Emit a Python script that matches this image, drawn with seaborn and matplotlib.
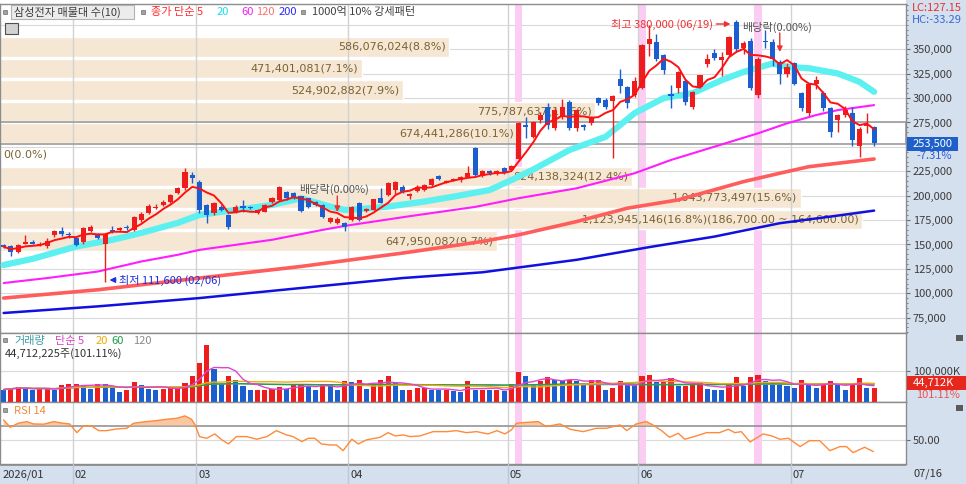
import numpy as np
import pandas as pd
import matplotlib
matplotlib.use("Agg")
import matplotlib.pyplot as plt
from matplotlib.patches import Rectangle
from matplotlib.ticker import FuncFormatter, MultipleLocator, FixedLocator
import seaborn as sns

sns.set_style("white")
plt.rcParams["font.family"] = ["Noto Sans CJK KR", "DejaVu Sans"]

# ------------------------------------------------------------
# data (prices in thousand won, volume in million shares)
# ------------------------------------------------------------
month_labels = ["2026/01", "02", "03", "04", "05", "06", "07"]
month_start = [0, 10, 27, 48, 70, 88, 109]
last_date = "07/16"

opens = [149, 148.5, 142.2, 151, 153, 149.5, 148, 160, 163.5, 161,
         157, 152.4, 164.3, 160, 150.7, 164.5, 165, 168, 165, 175,
         182, 187, 190.5, 194, 203, 207.6, 221, 214.4, 190.5, 182,
         188.8, 180.3, 183.7, 189, 188.5, 182, 183.7, 194, 195.6, 204,
         203, 199.3, 197.4, 194, 190.5, 173.4, 172.5, 172, 175, 192.5,
         184, 185.4, 197.7, 200.8, 206, 209.3, 199.7, 205, 206, 211,
         220.4, 213.5, 216, 215.6, 219.6, 249, 220, 225, 222, 228,
         226, 238, 272, 260.4, 278, 291, 269, 281, 296, 269,
         272, 274, 299.6, 298, 297, 320, 310.9, 303, 310, 355,
         357.8, 344, 304, 310, 318, 291, 311.5, 335, 346, 338.8,
         344, 378, 351, 359, 303, 358.5, 357.8, 337, 324.5, 335.5,
         304.8, 284.6, 314, 304.8, 289.4, 277.5, 282.6, 284.3, 250.5, 271,
         270]
highs = [150.4, 149, 150, 160, 155, 153, 157, 165, 167.4, 163,
         158, 168, 169.5, 162, 161.5, 169, 167.5, 170, 179.5, 183,
         191, 191, 196, 202, 209, 228, 224, 216, 191, 194,
         190, 181, 190, 195.6, 189.5, 186.5, 191.5, 198.5, 210, 205,
         204, 200, 198, 195, 191, 178, 178, 173, 189, 194,
         187.5, 197, 207.9, 214, 215, 211, 203, 210.5, 212, 218,
         221, 216, 218.5, 220, 230, 250, 226, 226.5, 226, 229,
         231, 275, 280.8, 277, 286, 295, 290, 298.8, 298, 289,
         273, 282, 301, 300, 303, 330, 312, 322, 355, 374.6,
         366, 345, 313, 328, 320, 307, 324, 345, 350, 347,
         364, 380, 358, 362, 342, 369.5, 361, 339, 336, 337,
         306, 315, 323, 307, 291, 284, 292, 291, 270, 284.6,
         271]
lows = [146.3, 137.7, 141, 150, 150, 148, 146, 158, 158.4, 157,
        148, 151, 163, 156, 111.6, 161.6, 164, 165, 164, 173,
        181, 186, 189, 193, 202, 206, 212.7, 182, 172, 180,
        184, 166, 182, 183.7, 186, 181, 183, 193, 195, 196,
        196.5, 183, 187.5, 189.5, 177, 172, 171, 164, 174, 174,
        183, 185, 192, 200, 201.5, 203, 197, 204, 205, 210,
        216, 212.5, 215, 214.5, 219, 220, 219, 221.5, 221, 222,
        225, 237, 258.7, 259, 274, 268, 267, 279, 267, 266,
        267, 272, 293, 289, 238.6, 304.8, 290, 301, 309, 343,
        338, 325, 289.4, 305, 293, 289, 310, 332, 339, 323,
        343, 348, 345, 308, 299.6, 351, 333, 314, 322, 313,
        287, 282, 309, 287, 260, 265, 281, 250.5, 240, 264,
        251]
closes = [147.7, 142.5, 149, 153, 151, 151, 153.8, 163.3, 161, 160,
          149.6, 166.7, 168, 157, 160.6, 163, 166.5, 166.5, 178.6, 181,
          189.8, 188.5, 194, 200.8, 208, 224.6, 218, 185.4, 180.3, 192.6,
          185.4, 168.4, 188.8, 187.5, 187.5, 185.4, 190.5, 197.5, 209.3, 197.4,
          197.4, 184, 188.8, 190.5, 178.6, 177, 176.5, 167.5, 188, 175,
          186.5, 196.4, 192.6, 212.7, 214.4, 204, 201.8, 209, 211, 216.8,
          217, 215, 217.5, 219, 223, 221, 225, 223, 225, 223,
          230, 274, 270, 275.8, 283, 272, 288, 291, 269, 288,
          270, 281, 294.5, 291, 302, 312, 294.5, 317.7, 354, 361,
          340.5, 328.6, 302, 327, 296, 306, 323.5, 340, 341, 342.5,
          362.6, 350, 356, 310, 340.5, 357, 340.5, 324.5, 332, 314,
          289.4, 314.3, 319, 289.4, 265.5, 282.5, 287.7, 257, 268.8, 273.5,
          253.5]
volumes = [40, 45, 48, 46, 38, 43, 43, 40, 54, 59,
           59, 54, 43, 59, 58, 46, 32, 40, 65, 54,
           43, 38, 43, 46, 46, 61, 83, 124, 183, 105,
           57, 83, 70, 51, 38, 38, 38, 43, 48, 43,
           57, 57, 51, 40, 57, 54, 40, 68, 65, 72,
           43, 54, 70, 83, 61, 38, 38, 46, 46, 40,
           38, 38, 36, 32, 68, 40, 40, 38, 38, 37,
           57, 97, 83, 54, 68, 79, 72, 68, 72, 68,
           57, 70, 72, 38, 46, 68, 57, 56, 83, 86,
           65, 65, 76, 51, 51, 57, 61, 43, 40, 38,
           61, 79, 51, 79, 86, 68, 65, 57, 51, 46,
           70, 54, 46, 61, 68, 54, 40, 57, 76, 44.2,
           44.7]

ma20_x = [0, 4, 10, 15, 19, 24, 27, 32, 37, 41, 45, 47, 49, 53, 58, 62, 67, 70,
          73, 78, 83, 87, 91, 95, 99, 102, 106, 108, 111, 115, 118, 120]
ma20_v = [129, 135.3, 147.9, 154.8, 161.9, 172.1, 180.3, 185.4, 190.5, 197.4,
          188.8, 185.4, 186.2, 188.8, 194, 199, 205.8, 216, 226.8, 246.8, 260.4,
          284.6, 300, 305.1, 318.4, 326.8, 335.4, 332, 330.6, 325.2, 316.6, 306.4]
ma60_x = [0, 6, 13, 19, 24, 27, 37, 44, 47, 56, 65, 71, 79, 87, 92, 95, 104,
          108, 112, 115, 120]
ma60_v = [110.5, 115.6, 122.3, 132.6, 139.4, 144.5, 154.8, 165, 169, 179, 188.5,
          197.4, 207.6, 223, 236.6, 243.4, 263.9, 274.1, 282.6, 287.7, 292.8]
ma120_x = [0, 13, 27, 41, 55, 66, 71, 79, 86, 93, 102, 107, 111, 120]
ma120_v = [95.1, 103.6, 115.6, 127.5, 141.2, 153.1, 159.9, 173.5, 187.2, 195.7,
           214.4, 223, 229.7, 237.6]
ma200_x = [0, 13, 27, 41, 55, 66, 79, 89, 98, 107, 114, 120]
ma200_v = [79.8, 86.6, 95.1, 105.4, 115.6, 121.5, 134.3, 147.3, 158.1, 171.8,
           178.6, 184.7]

rsi_x = [0, 0.9, 2.0, 3.2, 4.1, 5.5, 6.9, 8.2, 9.1, 10.1, 11.0, 12.1, 13.1, 14.2,
         15.6, 17.0, 17.9, 19.3, 21.1, 22.5, 23.9, 25.0, 25.9, 26.4, 27.0, 28.0,
         29.1, 30.1, 31.0, 32.1, 33.5, 34.9, 36.3, 37.6, 39.0, 39.9, 41.1, 42.0,
         42.9, 43.8, 45.0, 45.9, 46.8, 48.0, 48.9, 50.0, 51.9, 53.0, 54.0, 55.1,
         56.0, 57.4, 59.2, 61.1, 62.4, 63.8, 65.2, 66.8, 68.0, 69.1, 70.0, 70.7,
         71.6, 73.7, 74.8, 76.7, 78.1, 79.9, 81.7, 83.1, 85.0, 85.9, 87.2, 88.6,
         89.5, 90.7, 91.8, 93.0, 93.9, 95.5, 96.9, 98.7, 99.9, 100.8, 101.7,
         102.9, 104.7, 105.9, 107.0, 108.2, 109.8, 111.1, 112.5, 113.9, 115.3,
         116.2, 117.1, 118.7, 119.9]
rsi_v = [78, 67.7, 73.3, 75.6, 72.4, 72, 75.6, 73.3, 72.4, 60.2, 69.6, 69.6, 63, 63,
         65.4, 66.3, 73.3, 75.2, 77, 78.9, 80.3, 83.6, 78.9, 71, 54.7, 52.3, 58.4,
         50, 44.4, 54.7, 54.7, 51, 54.7, 63, 57, 54.7, 47.7, 52.3, 52.3, 44.4, 43,
         43, 35, 51, 44.4, 50, 53.7, 60.2, 55.6, 57, 54.7, 55.6, 61.6, 61.6, 63,
         60.2, 61.6, 58.4, 63, 58.4, 64, 73.3, 74.2, 75.6, 68.7, 72.4, 64.9, 61.6,
         66.3, 66.3, 71, 63, 72.4, 75.6, 71, 63, 53.7, 59.3, 51, 55.6, 60.2, 60.2,
         64.9, 60.2, 61.6, 47.2, 58.4, 55.6, 51, 52.3, 40.7, 49, 49, 35, 40.7,
         40.7, 32.3, 39.8, 33.7]

# volume profile (매물대), 10 bins of 22.1k
prof_lo = [142.5, 164.6, 186.7, 208.8, 230.9, 253.0, 275.1, 297.2, 319.3, 341.4]
prof_vol = [647950082, 1123945146, 1043773497, 824138324, 0,
            674441286, 775787637, 524902882, 471401081, 586076024]
prof_pct = [9.7, 16.8, 15.6, 12.4, 0.0, 10.1, 11.6, 7.9, 7.1, 8.8]
prof_step = 22.1

pattern_days = [71, 88, 104]
high_idx, high_val, high_date = 101, 380000, "06/19"
low_idx, low_val, low_date = 14, 111600, "02/06"
exdiv_idx = [46, 107]

last_price = 253500
change_pct = -7.31
last_vol = 44712225
vol_ratio = 101.11

# price labels hidden behind the LC/HC and current-price boxes
price_labels = [75000, 100000, 125000, 150000, 175000, 200000, 225000,
                275000, 300000, 325000, 350000]

# ------------------------------------------------------------
# layout helpers (pixel based)
# ------------------------------------------------------------
W, H = 966, 484
RED, BLUE = "#ee1d1d", "#1b5ed0"
GRID = "#dadada"
PANEL_BG = "#d5e0ee"
XL = (-0.5, 124.4)


def rect(x0, y0, x1, y1):
    return [x0 / W, 1 - y1 / H, (x1 - x0) / W, (y1 - y0) / H]


fig = plt.figure(figsize=(W / 100, H / 100), dpi=100)


def T(x, y, s, color="#333333", size=8, ha="left", va="center", **kw):
    return fig.text(x / W, 1 - y / H, s, color=color, fontsize=size, ha=ha, va=va, **kw)


def box(x0, y0, x1, y1, fc, ec="none", lw=0.8, z=-1):
    fig.patches.append(Rectangle((x0 / W, 1 - y1 / H), (x1 - x0) / W, (y1 - y0) / H,
                                 transform=fig.transFigure, facecolor=fc,
                                 edgecolor=ec, lw=lw, zorder=z))


# backgrounds for right scale and date strip
box(906, 0, 966, 484, PANEL_BG)
box(0, 464, 906, 484, PANEL_BG)

ax_p = fig.add_axes(rect(0, 4, 906, 333))
ax_v = fig.add_axes(rect(0, 333, 906, 402))
ax_r = fig.add_axes(rect(0, 402, 906, 464))

idx = np.arange(len(closes))
o = np.array(opens) * 1000
h = np.array(highs) * 1000
l = np.array(lows) * 1000
c = np.array(closes) * 1000
up = c >= o

for ax in (ax_p, ax_v, ax_r):
    ax.set_xlim(*XL)
    ax.set_xticks([])
    for s in ax.spines.values():
        s.set_color("#8c8c8c")
        s.set_linewidth(1.0)
    for m in month_start[1:]:
        ax.axvline(m - 0.5, color="#d2d2d2", lw=1.0, zorder=1.5)
    for d in pattern_days:
        ax.axvspan(d - 0.5, d + 0.5, color="#fccdf3", lw=0, zorder=0.8)
    ax.yaxis.tick_right()
    ax.tick_params(axis="y", direction="out", length=3, width=0.8, pad=2,
                   colors="#6a6a6a", labelcolor="#3c3c3c", labelsize=8)

# ---------------- price panel ----------------
ax_p.set_ylim(59300, 396400)
ax_p.yaxis.set_major_locator(FixedLocator(price_labels))
ax_p.yaxis.set_minor_locator(MultipleLocator(5000))
ax_p.tick_params(axis="y", which="minor", direction="out", length=1.6, width=0.6,
                 colors="#6a6a6a")
ax_p.yaxis.set_major_formatter(FuncFormatter(lambda v, p: f"{v:,.0f}"))
for t in np.arange(75000, 396400, 25000):
    ax_p.axhline(t, color=GRID, lw=0.8, zorder=0.5)

# volume profile bars
span = XL[1] - XL[0]
full = 862 / 906 * span
vmax = max(prof_vol)
imax = prof_vol.index(vmax)
for i, (lo, v, p) in enumerate(zip(prof_lo, prof_vol, prof_pct)):
    yc = (lo + prof_step / 2) * 1000
    bw = v / vmax * full
    if v > 0:
        ax_p.barh(yc, bw, left=XL[0], height=prof_step * 1000 * 0.9,
                  color="#f5e7d4", zorder=1)
    lab = f"{v:,}({p:.1f}%)"
    if i == imax:
        lab += f"({(lo + prof_step) * 1000:,.2f} ~ {lo * 1000:,.2f})"
    if v > 0:
        ax_p.text(XL[0] + bw - 0.5, yc, lab, ha="right", va="center", fontsize=8,
                  color="#7a6232", zorder=2, family="DejaVu Sans")
    else:
        ax_p.text(XL[0] + 0.5, yc, lab, ha="left", va="center", fontsize=8,
                  color="#7a6232", zorder=2, family="DejaVu Sans")

cur_bin = [lo for lo in prof_lo if lo <= last_price / 1000 < lo + prof_step][0]
ax_p.add_patch(Rectangle((XL[0], cur_bin * 1000), span, prof_step * 1000,
                         facecolor="none", edgecolor="#a3a3a3", lw=1.3, zorder=1.6))

# moving averages
sns.lineplot(x=ma200_x, y=np.array(ma200_v) * 1000, ax=ax_p, color="#1010e0", lw=1.8,
             estimator=None, zorder=3)
sns.lineplot(x=ma120_x, y=np.array(ma120_v) * 1000, ax=ax_p, color="#ff5c5c", lw=2.6,
             estimator=None, zorder=3)
sns.lineplot(x=ma60_x, y=np.array(ma60_v) * 1000, ax=ax_p, color="#ff1cff", lw=1.5,
             estimator=None, zorder=3)
sns.lineplot(x=ma20_x, y=np.array(ma20_v) * 1000, ax=ax_p, color="#5df0f0", lw=4.5,
             estimator=None, zorder=3)

# candles
cols = np.where(up, RED, BLUE)
ax_p.vlines(idx, l, h, colors=cols, lw=1.0, zorder=4)
ax_p.bar(idx, np.maximum(np.abs(c - o), 500), bottom=np.minimum(o, c), width=0.7,
         color=cols, lw=0, zorder=4)

ma5 = pd.Series(c).rolling(5, min_periods=1).mean()
sns.lineplot(x=idx, y=ma5.values, ax=ax_p, color="#ff1010", lw=1.4, estimator=None,
             zorder=5)
ax_p.set_xlabel("")
ax_p.set_ylabel("")

# annotations
ax_p.annotate(f"최고 {high_val:,} ({high_date})", xy=(high_idx - 0.8, 375900),
              xytext=(high_idx - 3.2, 375900), ha="right", va="center", fontsize=8,
              color="#f03030", zorder=6,
              arrowprops=dict(arrowstyle="-|>", color="#f03030", lw=1.0,
                              mutation_scale=8, shrinkA=0, shrinkB=0))
ax_p.annotate(f"최저 {low_val:,} ({low_date})", xy=(low_idx + 0.6, 113600),
              xytext=(low_idx + 1.9, 113600), ha="left", va="center", fontsize=8,
              color="#1d2fe0", zorder=6,
              arrowprops=dict(arrowstyle="-|>", color="#1d2fe0", lw=1.0,
                              mutation_scale=8, shrinkA=0, shrinkB=0))
for k, (tx, ty, y0, y1) in zip(exdiv_idx, [(40.8, 206600, 199700, 183300),
                                           (101.8, 372800, 366700, 347200)]):
    ax_p.text(tx, ty, "배당락(0.00%)", ha="left", va="center", fontsize=8,
              color="#555555", zorder=6)
    ax_p.annotate("", xy=(k, y1), xytext=(k, y0), zorder=6,
                  arrowprops=dict(arrowstyle="-|>", color="#f03030", lw=1.0,
                                  mutation_scale=8, shrinkA=0, shrinkB=0))

# ---------------- volume panel ----------------
vol = np.array(volumes) * 1e6
vcol = [BLUE] + [RED if vol[i] >= vol[i - 1] else BLUE for i in range(1, len(vol))]
ax_v.set_ylim(0, 222e6)
ax_v.axhline(100e6, color=GRID, lw=0.8, zorder=0.5)
ax_v.bar(idx, vol, width=0.7, color=vcol, lw=0, zorder=3)
vs = pd.Series(vol)
for n, colr in [(120, "#a0a0a0"), (60, "#1fa24c"), (20, "#f3aa10"), (5, "#e045d0")]:
    sns.lineplot(x=idx, y=vs.rolling(n, min_periods=1).mean().values, ax=ax_v,
                 color=colr, lw=1.0, estimator=None, zorder=4)
ax_v.yaxis.set_major_locator(FixedLocator([100e6]))
ax_v.yaxis.set_major_formatter(FuncFormatter(lambda v, p: f"{v / 1000:,.0f}K"))
ax_v.set_xlabel("")
ax_v.set_ylabel("")

# ---------------- RSI panel ----------------
ax_r.set_ylim(16.4, 103)
ax_r.axhline(50, color=GRID, lw=0.8, zorder=0.5)
ax_r.axhline(70, color="#8a8a8a", lw=1.1, zorder=2)
rx = np.array(rsi_x)
rv = np.array(rsi_v)
ax_r.fill_between(rx, 70, rv, where=rv > 70, interpolate=True, color="#f7bf95",
                  alpha=0.85, lw=0, zorder=2.5)
sns.lineplot(x=rx, y=rv, ax=ax_r, color="#ff8a3a", lw=1.0, estimator=None, zorder=3)
ax_r.yaxis.set_major_locator(FixedLocator([50]))
ax_r.yaxis.set_major_formatter(FuncFormatter(lambda v, p: f"{v:.2f}"))
ax_r.set_xlabel("")
ax_r.set_ylabel("")

# ---------------- date strip ----------------
ax_d = fig.add_axes(rect(0, 464, 906, 484))
ax_d.set_facecolor(PANEL_BG)
ax_d.set_xlim(*XL)
ax_d.set_ylim(0, 1)
ax_d.set_xticks([])
ax_d.set_yticks([])
for s in ax_d.spines.values():
    s.set_visible(False)
ax_d.axhline(1, color="#8c8c8c", lw=2.0)
for m, lab in zip(month_start, month_labels):
    if m > 0:
        ax_d.axvline(m - 0.5, color="#bcc6d4", lw=1.0)
    ax_d.text(m - 0.5 + 0.3, 0.45, lab, ha="left", va="center", fontsize=8,
              color="#333333")
T(914, 474, last_date, size=8)

# ---------------- legends / labels ----------------
def square(x, y):
    box(x, y, x + 4, y + 4, "#a0a0a0", ec="#707070", lw=0.5, z=3)


square(3, 10)
box(11, 5, 134, 19, "#ececec", ec="#b2b2b2", lw=0.8, z=2)
T(14, 12, "삼성전자 매물대 수(10)", color="#3c3c3c")
square(141, 10)
T(151, 12, "종가 단순 5", color="#ff2b2b")
T(217, 12, "20", color="#19e0ee")
T(241, 12, "60", color="#f51ef5")
T(256, 12, "120", color="#ff6e6e")
T(279, 12, "200", color="#2a2aff")
square(301, 10)
T(312, 12, "1000억 10% 강세패턴", color="#404040")
box(5, 23, 18, 34, "#d2d2d2", ec="#505050", lw=0.8, z=3)

square(3, 338)
T(14, 341, "거래량", color="#3a9ea5")
T(55, 341, "단순 5", color="#e040c8")
T(96, 341, "20", color="#f0a800")
T(111, 341, "60", color="#18a048")
T(133, 341, "120", color="#8a8a8a")
T(5, 354, f"{last_vol:,}주({vol_ratio:.2f}%)", color="#333333")

square(3, 408)
T(14, 411, "RSI 14", color="#f08a3a")

# right scale extras
T(912, 8, "LC:127.15", color="#e83030")
T(912, 20, "HC:-33.29", color="#3a6ad8")
box(907, 137, 958, 151, "#1f5fc9", z=3)
T(913, 144, f"{last_price:,}", color="white")
T(916, 156, f"{change_pct:.2f}%", color="#2a5ad2")
box(907, 376, 966, 390, "#e8271c", z=3)
T(913, 383, f"{last_vol / 1000:,.0f}K", color="white")
T(916, 395, f"{vol_ratio:.2f}%", color="#f05050")
box(956, 335, 963, 341, "#5a5a5a", z=3)
box(956, 405, 963, 411, "#5a5a5a", z=3)

fig.savefig("out.png", dpi=100)
